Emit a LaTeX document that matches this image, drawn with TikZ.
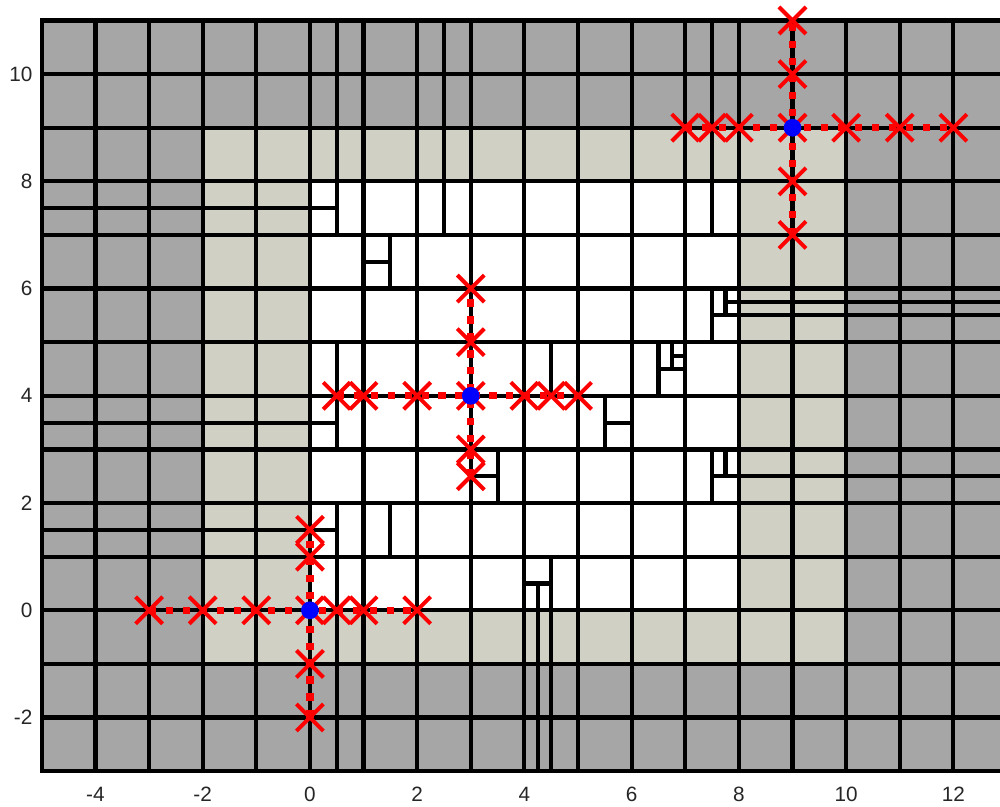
\documentclass[tikz,border=0pt]{standalone}
\usepackage{fontspec}
\setmainfont{Liberation Sans}
\usetikzlibrary{shapes.misc}
\definecolor{MeshGray}{RGB}{166, 166, 166}
\definecolor{MeshBeige}{RGB}{208, 208, 197}
\definecolor{AxisText}{RGB}{38, 38, 38}

\begin{document}
\begin{tikzpicture}[
    gridline/.style={draw=black, line width=2.2pt, line cap=rect},
    ticklabel/.style={font=\fontsize{11}{13}\selectfont, text=AxisText, inner sep=0pt},
    xmark/.style={cross out, draw=red, line width=2.1pt, minimum size=0.43cm, inner sep=0pt},
    centerdot/.style={circle, fill=blue, minimum size=0.33cm, inner sep=0pt},
    stencil/.style={draw=red, line width=3.8pt, dash pattern=on 3.8pt off 5.2pt}
  ]
    \clip (-5.78,-3.65) rectangle (12.87,11.382);

    % Regions: far field, transition band, refined core
    \fill[MeshGray] (-5,-3) rectangle (13,11);
    \fill[MeshBeige] (-2,-1) rectangle (10,9);
    \fill[white] (0,0) rectangle (8,8);

    % Lines through the whole box
    \foreach \x in {-5,-4,-3,-2,-1,0,8,9,10,11,12,13}
      \draw[gridline] (\x,-3) -- (\x,11);
    \foreach \y in {-3,-2,-1,0,1,2,3,4,5,6,7,8,9,10,11}
      \draw[gridline] (-5,\y) -- (13,\y);

    % Strips copied from the core boundary
    \foreach \x in {0.5,1,2,2.5,3,4,5,6,7,7.5}
      \draw[gridline] (\x,8) -- (\x,11);
    \foreach \x in {0.5,1,2,3,4,4.25,4.5,5,6,7}
      \draw[gridline] (\x,-3) -- (\x,0);
    \foreach \y in {1.5,3.5,7.5}
      \draw[gridline] (-5,\y) -- (0.5,\y);
    \foreach \y in {2.5,5.5}
      \draw[gridline] (7.5,\y) -- (13,\y);
    \draw[gridline] (7.75,5.75) -- (13,5.75);

    % Core rows: vertical cuts per row
    \foreach \r/\xs in {7/{0.5,1,2,2.5,3,4,5,6,7,7.5},
                        6/{1,1.5,2,3,4,5,6,7},
                        5/{1,2,3,4,5,6,7,7.5},
                        4/{0.5,1,2,3,4,4.5,5,6,6.5,7},
                        3/{0.5,1,2,3,4,5,5.5,6,7},
                        2/{1,2,3,3.5,4,5,6,7,7.5},
                        1/{0.5,1,1.5,2,3,4,5,6,7},
                        0/{0.5,1,2,3,4,4.5,5,6,7}}
      \foreach \x in \xs
        \draw[gridline] (\x,\r) -- (\x,\r+1);

    % Core rows: finer cuts
    \draw[gridline] (1,6.5) -- (1.5,6.5);
    \draw[gridline] (7.75,5.5) -- (7.75,6);
    \draw[gridline] (6.5,4.5) -- (7,4.5);
    \draw[gridline] (6.75,4.5) -- (6.75,5);
    \draw[gridline] (6.75,4.75) -- (7,4.75);
    \draw[gridline] (5.5,3.5) -- (6,3.5);
    \draw[gridline] (3,2.5) -- (3.5,2.5);
    \draw[gridline] (7.75,2.5) -- (7.75,3);
    \draw[gridline] (4,0.5) -- (4.5,0.5);
    \draw[gridline] (4.25,0) -- (4.25,0.5);

    % Tick labels
    \foreach \x in {-4,-2,...,12}
      \node[ticklabel] (xt\x) at (\x,-3.43) {\x};
    \foreach \y in {-2,0,...,10}
      \node[ticklabel, anchor=east] (yt\y) at (-5.17,\y) {\y};

    % Stencil at (0,0)
    \foreach \x [count=\i] in {-3,-2,-1,0,0.5,1,2}
      \node[xmark] (ah\i) at (\x,0) {};
    \foreach \y [count=\i] in {-2,-1,1,1.5}
      \node[xmark] (av\i) at (0,\y) {};
    \draw[stencil] (ah1.center) -- (ah7.center);
    \draw[stencil] (av1.center) -- (av4.center);
    \node[centerdot] (ca) at (0,0) {};

    % Stencil at (3,4)
    \foreach \x [count=\i] in {0.5,1,2,3,4,4.5,5}
      \node[xmark] (bh\i) at (\x,4) {};
    \foreach \y [count=\i] in {2.5,3,5,6}
      \node[xmark] (bv\i) at (3,\y) {};
    \draw[stencil] (bh1.center) -- (bh7.center);
    \draw[stencil] (bv1.center) -- (bv4.center);
    \node[centerdot] (cb) at (3,4) {};

    % Stencil at (9,9)
    \foreach \x [count=\i] in {7,7.5,8,9,10,11,12}
      \node[xmark] (ch\i) at (\x,9) {};
    \foreach \y [count=\i] in {7,8,10,11}
      \node[xmark] (cv\i) at (9,\y) {};
    \draw[stencil] (ch1.center) -- (ch7.center);
    \draw[stencil] (cv1.center) -- (cv4.center);
    \node[centerdot] (cc) at (9,9) {};
\end{tikzpicture}
\end{document}
